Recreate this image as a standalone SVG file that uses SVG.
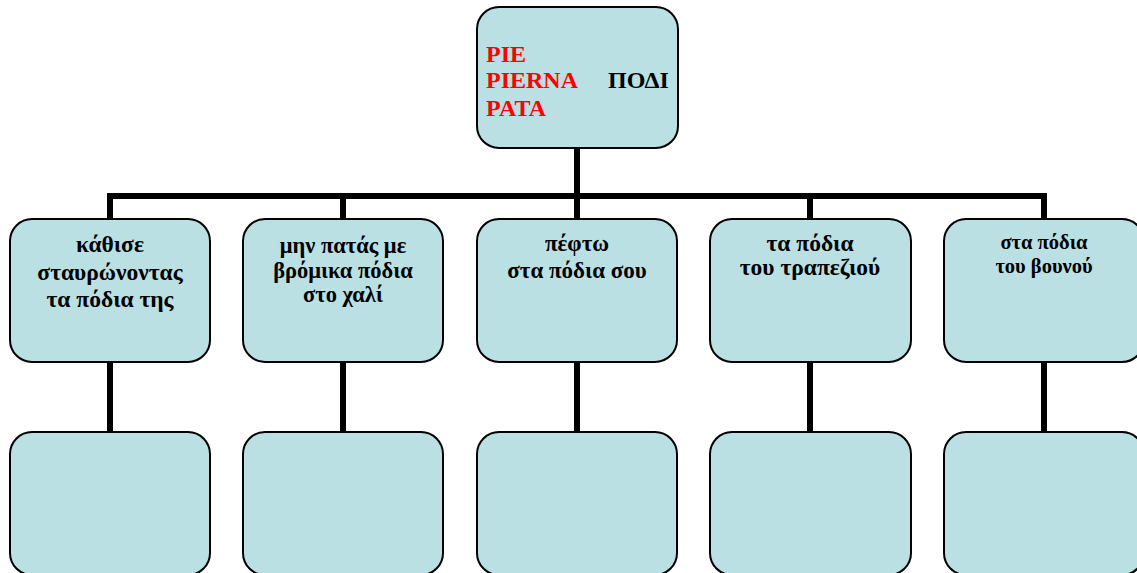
<svg xmlns="http://www.w3.org/2000/svg" width="1137" height="573" viewBox="0 0 1137 573">
<style>
.box{fill:#BAE0E3;stroke:#000;stroke-width:2}
.t{font-family:"Liberation Serif","Times New Roman",serif;font-weight:bold;fill:#000;text-anchor:middle}
.r{font-family:"Liberation Serif","Times New Roman",serif;font-weight:bold;font-size:24px;fill:#FF0000}
.k{font-family:"Liberation Serif","Times New Roman",serif;font-weight:bold;font-size:24px;fill:#000}
.c{fill:none;stroke:#000;stroke-width:6}
</style>
<rect width="1137" height="573" fill="#fff"/>
<g id="connectors">
<line class="c" x1="577" y1="148" x2="577" y2="196"/>
<polyline class="c" points="110,219 110,196 1044,196 1044,219"/>
<line class="c" x1="343" y1="196" x2="343" y2="219"/>
<line class="c" x1="577" y1="196" x2="577" y2="219"/>
<line class="c" x1="810" y1="196" x2="810" y2="219"/>
<line class="c" x1="110" y1="362" x2="110" y2="432"/>
<line class="c" x1="343" y1="362" x2="343" y2="432"/>
<line class="c" x1="577" y1="362" x2="577" y2="432"/>
<line class="c" x1="810" y1="362" x2="810" y2="432"/>
<line class="c" x1="1044" y1="362" x2="1044" y2="432"/>
</g>
<g id="root">
<rect class="box" x="477" y="7" width="201" height="141" rx="22"/>
<text class="r" x="486" y="62">PIE</text>
<text class="r" x="486" y="88">PIERNA</text>
<text class="r" x="486" y="116">PATA</text>
<text class="k" x="608" y="88">ΠΟΔΙ</text>
</g>
<g id="n1" class="t" font-size="23.5">
<rect class="box" x="10" y="219" width="200" height="143" rx="22"/>
<text x="110" y="252">κάθισε</text>
<text x="110" y="280">σταυρώνοντας</text>
<text x="110" y="307">τα πόδια της</text>
</g>
<g id="n2" class="t" font-size="22.5">
<rect class="box" x="243" y="219" width="200" height="143" rx="22"/>
<text x="343" y="253">μην πατάς με</text>
<text x="343" y="278">βρόμικα πόδια</text>
<text x="343" y="302">στο χαλί</text>
</g>
<g id="n3" class="t" font-size="23">
<rect class="box" x="477" y="219" width="200" height="143" rx="22"/>
<text x="577" y="251">πέφτω</text>
<text x="577" y="278">στα πόδια σου</text>
</g>
<g id="n4" class="t" font-size="23.5">
<rect class="box" x="710" y="219" width="201" height="143" rx="22"/>
<text x="810" y="251">τα πόδια</text>
<text x="810" y="275">του τραπεζιού</text>
</g>
<g id="n5" class="t" font-size="20.5">
<rect class="box" x="944" y="219" width="200" height="143" rx="22"/>
<text x="1044" y="249">στα πόδια</text>
<text x="1044" y="273">του βουνού</text>
</g>
<g id="b1"><rect class="box" x="10" y="432" width="200" height="143" rx="22"/></g>
<g id="b2"><rect class="box" x="243" y="432" width="200" height="143" rx="22"/></g>
<g id="b3"><rect class="box" x="477" y="432" width="200" height="143" rx="22"/></g>
<g id="b4"><rect class="box" x="710" y="432" width="201" height="143" rx="22"/></g>
<g id="b5"><rect class="box" x="944" y="432" width="200" height="143" rx="22"/></g>
</svg>
